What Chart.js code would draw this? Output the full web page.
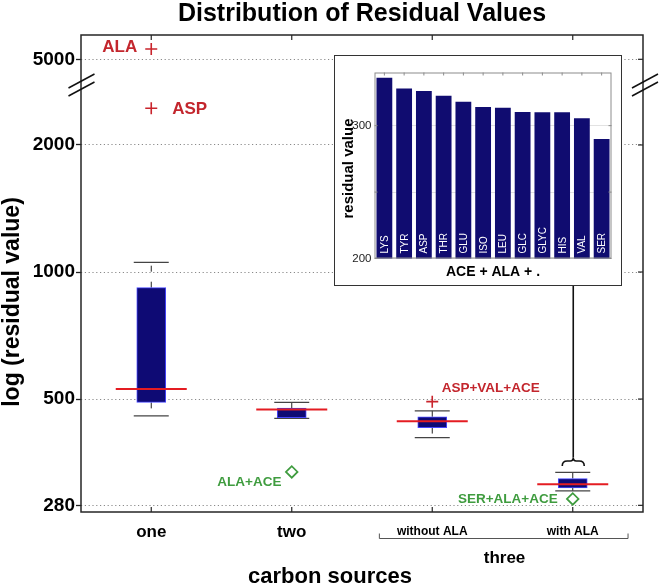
<!DOCTYPE html>
<html><head><meta charset="utf-8">
<script src="https://cdn.jsdelivr.net/npm/chart.js@4/dist/chart.umd.min.js"></script>
<style>
html,body{margin:0;padding:0;background:#fff;}
#wrap{position:relative;width:662px;height:587px;overflow:hidden;}
#main{position:absolute;left:0;top:0;}
#insetBox{position:absolute;left:334px;top:55px;width:288px;height:231px;box-sizing:border-box;border:1.5px solid #333;background:#fff;}
#inset{position:absolute;left:0;top:0;}
</style></head>
<body>
<div id="wrap">
<canvas id="main" width="662" height="587"></canvas>
<div id="insetBox"><canvas id="inset" width="285" height="228"></canvas></div>
</div>
<script>
// ---------------- data ----------------
const categories = ['one', 'two', 'without ALA', 'with ALA'];
const groupName = 'three';            // groups the last two categories
const whiskerHigh = [1054, 491, 469, 335];
const q3 = [918, 476, 454, 324];
const medians = [528, 472, 443, 314];
const q1 = [491, 452, 428, 308];
const whiskerLow = [456, 450, 405, 303];
const plusOutlierCat = [1, 1, 3];
const plusOutlierValue = [5290, 2443, 493];
const plusOutlierName = ['ALA', 'ASP', 'ASP+VAL+ACE'];
const diamondOutlierCat = [2, 4];
const diamondOutlierValue = [336, 290];
const diamondOutlierName = ['ALA+ACE', 'SER+ALA+ACE'];
const yTicksLower = [280, 500, 1000, 2000];
const yTicksUpper = [5000];
const insetCategories = ['LYS', 'TYR', 'ASP', 'THR', 'GLU', 'ISO', 'LEU', 'GLC', 'GLYC', 'HIS', 'VAL', 'SER'];
const insetValues = [336, 328, 326, 322.5, 318, 314, 313.5, 310.3, 310, 310, 305.5, 290];
const insetTicks = [200, 250, 300];
const insetTickLabels = [200, 300];

// ---------------- styles ----------------
const FF = '"Liberation Sans", Arial, Helvetica, sans-serif';
Chart.defaults.font.family = FF;
const BOX_FILL = '#0e0a74', BOX_EDGE = '#4646ff', MED_RED = '#e41c22';
const OUT_RED = '#c9242c', TXT_RED = '#c3262d', GREEN = '#3f9c3f';
const GRID_DOT = '#8a8a8a', FRAME = '#262626';
const LOWER_RANGE = [270, 2774], UPPER_RANGE = [4346, 5709];
const plusLabelStyle = [
  {dx: -14, dy: -1.5, align: 'right', size: 17},
  {dx: 21, dy: 1, align: 'left', size: 17},
  {dx: 9.4, dy: -13.7, align: 'left', size: 13.5}
];
const diamondLabelStyle = [
  {dx: -10.3, dy: 10, align: 'right', size: 13.5},
  {dx: -15, dy: 0.7, align: 'right', size: 13.5}
];

const onUpper = v => v > LOWER_RANGE[1];
const xs = categories.map((c, i) => i + 1);

const whiskerPts = [];
xs.forEach((x, i) => {
  whiskerPts.push({x, y: q3[i]}, {x, y: whiskerHigh[i]}, {x, y: null},
                  {x, y: q1[i]}, {x, y: whiskerLow[i]}, {x, y: null});
});
const capPts = [];
xs.forEach((x, i) => { capPts.push({x, y: whiskerHigh[i]}, {x, y: whiskerLow[i]}); });

const plusLower = [], plusUpper = [];
plusOutlierValue.forEach((v, i) => {
  (onUpper(v) ? plusUpper : plusLower).push({x: plusOutlierCat[i], y: v});
});

const yScaleCommon = {
  type: 'logarithmic', position: 'left', stack: 'left',
  ticks: {callback: v => String(v), font: {size: 19, weight: 'bold'}, color: '#000', padding: 1, autoSkip: false},
  grid: {color: GRID_DOT, lineWidth: 1, drawTicks: true, tickLength: 5, tickColor: '#222', tickWidth: 1.3, tickBorderDash: []},
  border: {display: false, dash: [1.2, 2.6]},
  afterFit: s => { s.width = 81; s.paddingTop = 0; s.paddingBottom = 0; }
};

const decorPlugin = {
  id: 'decor',
  afterDraw(chart) {
    const ctx = chart.ctx, ca = chart.chartArea;
    const xS = chart.scales.x, yL = chart.scales.y, yU = chart.scales.yTop;
    ctx.save();
    // frame
    ctx.strokeStyle = FRAME; ctx.lineWidth = 1.5;
    ctx.strokeRect(ca.left, ca.top, ca.right - ca.left, ca.bottom - ca.top);
    // inward ticks top/bottom
    ctx.lineWidth = 1.2;
    xS.ticks.forEach(t => {
      const px = xS.getPixelForValue(t.value);
      ctx.beginPath();
      ctx.moveTo(px, ca.top); ctx.lineTo(px, ca.top + 5);
      ctx.moveTo(px, ca.bottom); ctx.lineTo(px, ca.bottom - 5);
      ctx.stroke();
    });
    // inward ticks right
    [yL, yU].forEach(s => s.ticks.forEach(t => {
      const py = s.getPixelForValue(t.value);
      ctx.beginPath(); ctx.moveTo(ca.right, py); ctx.lineTo(ca.right - 5, py); ctx.stroke();
    }));
    // axis break marks (boundary between the two stacked y axes)
    const yb = yU.bottom;
    ctx.lineWidth = 1.5; ctx.strokeStyle = '#111';
    [ca.left + 0.5, ca.right + 2].forEach(x0 => {
      [-4, 4].forEach(off => {
        ctx.beginPath();
        ctx.moveTo(x0 - 13, yb + off + 7);
        ctx.lineTo(x0 + 13, yb + off - 7);
        ctx.stroke();
      });
    });
    // y title
    ctx.fillStyle = '#000';
    ctx.save();
    ctx.translate(19, 302); ctx.rotate(-Math.PI / 2);
    ctx.font = 'bold 23px ' + FF; ctx.textAlign = 'center'; ctx.textBaseline = 'alphabetic';
    ctx.fillText('log (residual value)', 0, 0);
    ctx.restore();
    // x title
    ctx.font = 'bold 22px ' + FF; ctx.textAlign = 'center'; ctx.textBaseline = 'alphabetic';
    ctx.fillText('carbon sources', (ca.left + ca.right) / 2 - 32, 583);
    // group bracket
    const bx1 = xS.getPixelForValue(3 - 0.38), bx2 = xS.getPixelForValue(4 + 0.39);
    ctx.strokeStyle = '#555'; ctx.lineWidth = 1;
    ctx.beginPath();
    ctx.moveTo(bx1 + 0.5, 533.5); ctx.lineTo(bx1 + 0.5, 538.5); ctx.lineTo(bx2 + 0.5, 538.5); ctx.lineTo(bx2 + 0.5, 533.5);
    ctx.stroke();
    ctx.font = 'bold 17px ' + FF;
    ctx.fillText(groupName, (xS.getPixelForValue(3) + xS.getPixelForValue(4)) / 2 + 2, 562.5);
    // outlier labels
    ctx.textBaseline = 'middle';
    plusOutlierName.forEach((nm, i) => {
      const st = plusLabelStyle[i], v = plusOutlierValue[i];
      const px = xS.getPixelForValue(plusOutlierCat[i]);
      const py = (onUpper(v) ? yU : yL).getPixelForValue(v);
      ctx.font = 'bold ' + st.size + 'px ' + FF; ctx.textAlign = st.align; ctx.fillStyle = TXT_RED;
      ctx.fillText(nm, px + st.dx, py + st.dy);
    });
    diamondOutlierName.forEach((nm, i) => {
      const st = diamondLabelStyle[i], v = diamondOutlierValue[i];
      const px = xS.getPixelForValue(diamondOutlierCat[i]);
      const py = yL.getPixelForValue(v);
      ctx.font = 'bold ' + st.size + 'px ' + FF; ctx.textAlign = st.align; ctx.fillStyle = GREEN;
      ctx.fillText(nm, px + st.dx, py + st.dy);
    });
    // connector from inset to the "with ALA" box, with a curly brace
    const cx = xS.getPixelForValue(4) + 0.5;
    const capY = yL.getPixelForValue(whiskerHigh[3]);
    const tip = capY - 15, mid = capY - 11.5, end = capY - 6.5;
    ctx.strokeStyle = '#111'; ctx.lineWidth = 1.6;
    ctx.beginPath(); ctx.moveTo(cx, 280); ctx.lineTo(cx, tip); ctx.stroke();
    ctx.beginPath();
    ctx.moveTo(cx - 11, end);
    ctx.quadraticCurveTo(cx - 11, mid, cx - 6, mid);
    ctx.lineTo(cx - 3, mid);
    ctx.quadraticCurveTo(cx, mid, cx, tip);
    ctx.quadraticCurveTo(cx, mid, cx + 3, mid);
    ctx.lineTo(cx + 6, mid);
    ctx.quadraticCurveTo(cx + 11, mid, cx + 11, end);
    ctx.stroke();
    ctx.restore();
  }
};

new Chart(document.getElementById('main'), {
  type: 'bar',
  data: {
    datasets: [
      {type: 'line', label: 'median', order: 0, data: xs.map((x, i) => ({x, y: medians[i]})), yAxisID: 'y',
       showLine: false, pointStyle: 'line', pointRadius: 35.5, borderColor: MED_RED, pointBorderColor: MED_RED, pointBorderWidth: 2},
      {type: 'line', label: 'outliers', order: 1, data: plusLower, yAxisID: 'y', showLine: false,
       pointStyle: 'cross', pointRadius: 6, borderColor: OUT_RED, pointBorderColor: OUT_RED, pointBorderWidth: 1.6},
      {type: 'line', label: 'outliers high', order: 1, data: plusUpper, yAxisID: 'yTop', showLine: false,
       pointStyle: 'cross', pointRadius: 6, borderColor: OUT_RED, pointBorderColor: OUT_RED, pointBorderWidth: 1.6},
      {type: 'line', label: 'low outliers', order: 1, data: diamondOutlierValue.map((v, i) => ({x: diamondOutlierCat[i], y: v})), yAxisID: 'y',
       showLine: false, pointStyle: 'rectRot', pointRadius: 5.8, borderColor: GREEN, pointBorderColor: GREEN,
       pointBackgroundColor: 'rgba(255,255,255,0)', pointBorderWidth: 1.7},
      {type: 'bar', label: 'IQR', order: 2, data: xs.map((x, i) => ({x, y: [q1[i], q3[i]]})), yAxisID: 'y',
       backgroundColor: BOX_FILL, borderColor: BOX_EDGE, borderWidth: 1, borderSkipped: false, barThickness: 29},
      {type: 'line', label: 'caps', order: 3, data: capPts, yAxisID: 'y', showLine: false,
       pointStyle: 'line', pointRadius: 17.5, borderColor: '#444', pointBorderColor: '#444', pointBorderWidth: 1.2},
      {type: 'line', label: 'whiskers', order: 4, data: whiskerPts, yAxisID: 'y', spanGaps: false,
       borderColor: '#222', borderWidth: 1, borderDash: [6, 10], pointRadius: 0, fill: false}
    ]
  },
  options: {
    responsive: false, animation: false, events: [],
    layout: {autoPadding: false, padding: {left: 0, right: 19, top: 0, bottom: 0}},
    plugins: {
      legend: {display: false}, tooltip: {enabled: false},
      title: {display: true, text: 'Distribution of Residual Values', fullSize: false, color: '#000',
              font: {size: 25, weight: 'bold', lineHeight: 1}, padding: {top: 2, bottom: 8}}
    },
    scales: {
      x: {
        type: 'linear', min: 0.5, max: 4.5, offset: false,
        afterBuildTicks: s => { s.ticks = xs.map(v => ({value: v})); },
        ticks: {
          autoSkip: false, maxRotation: 0, color: '#000', padding: 1.8,
          callback: (v, i) => categories[i],
          font: c => (c.index < 2 ? {size: 17, weight: 'bold', lineHeight: 1.2} : {size: 12, weight: 'bold', lineHeight: 1.7})
        },
        grid: {display: false},
        border: {display: false},
        afterFit: s => { s.height = 75; s.paddingLeft = 0; s.paddingRight = 0; }
      },
      y: Object.assign({}, yScaleCommon, {
        min: LOWER_RANGE[0], max: LOWER_RANGE[1], stackWeight: 427,
        afterBuildTicks: s => { s.ticks = yTicksLower.map(v => ({value: v})); }
      }),
      yTop: Object.assign({}, yScaleCommon, {
        min: UPPER_RANGE[0], max: UPPER_RANGE[1], stackWeight: 50,
        afterBuildTicks: s => { s.ticks = yTicksUpper.map(v => ({value: v})); }
      })
    }
  },
  plugins: [decorPlugin]
});

// ---------------- inset ----------------
const insetDecor = {
  id: 'insetDecor',
  beforeDraw(chart) {
    const ctx = chart.ctx, ca = chart.chartArea;
    ctx.save();
    ctx.fillStyle = '#000';
    ctx.translate(17.5, (ca.top + ca.bottom) / 2 + 3);
    ctx.rotate(-Math.PI / 2);
    ctx.font = 'bold 15px ' + FF; ctx.textAlign = 'center'; ctx.textBaseline = 'alphabetic';
    ctx.fillText('residual value', 0, 0);
    ctx.restore();
  },
  afterDatasetsDraw(chart) {
    const ctx = chart.ctx, ca = chart.chartArea;
    const meta = chart.getDatasetMeta(0);
    ctx.save();
    ctx.fillStyle = '#fff'; ctx.font = '10px ' + FF; ctx.textAlign = 'left'; ctx.textBaseline = 'alphabetic';
    meta.data.forEach((bar, i) => {
      ctx.save();
      ctx.translate(bar.x + 3.6, ca.bottom - 5);
      ctx.rotate(-Math.PI / 2);
      ctx.fillText(insetCategories[i], 0, 0);
      ctx.restore();
    });
    ctx.restore();
  },
  afterDraw(chart) {
    const ctx = chart.ctx, ca = chart.chartArea, yS = chart.scales.y;
    const meta = chart.getDatasetMeta(0);
    ctx.save();
    ctx.strokeStyle = '#8c8c8c'; ctx.lineWidth = 1;
    ctx.strokeRect(ca.left + 0.5, ca.top + 0.5, ca.right - ca.left - 1, ca.bottom - ca.top - 1);
    meta.data.forEach(bar => {
      ctx.beginPath(); ctx.moveTo(bar.x, ca.top); ctx.lineTo(bar.x, ca.top + 3); ctx.stroke();
    });
    yS.ticks.forEach(t => {
      const py = yS.getPixelForValue(t.value);
      ctx.beginPath();
      ctx.moveTo(ca.right, py); ctx.lineTo(ca.right - 3, py);
      ctx.moveTo(ca.left, py); ctx.lineTo(ca.left + 3, py);
      ctx.stroke();
    });
    ctx.restore();
  }
};

new Chart(document.getElementById('inset'), {
  type: 'bar',
  data: {
    labels: insetCategories,
    datasets: [{label: 'ACE + ALA + .', data: insetValues, backgroundColor: '#100c70',
                barPercentage: 0.8, categoryPercentage: 1.0, borderWidth: 0}]
  },
  options: {
    responsive: false, animation: false, events: [],
    layout: {autoPadding: false, padding: {left: 0, right: 8.5, top: 16.5, bottom: 0}},
    plugins: {legend: {display: false}, tooltip: {enabled: false}},
    scales: {
      x: {
        grid: {display: false}, border: {display: false}, ticks: {display: false},
        title: {display: true, text: 'ACE + ALA + .', color: '#000', font: {size: 14, weight: 'bold'}, padding: {top: 0, bottom: 3}},
        afterFit: s => { s.height = 25.5; s.paddingLeft = 0; s.paddingRight = 0; }
      },
      y: {
        min: 200, max: 340,
        afterBuildTicks: s => { s.ticks = insetTicks.map(v => ({value: v})); },
        ticks: {callback: v => (insetTickLabels.includes(v) ? String(v) : ''), font: {size: 11.5}, color: '#222', padding: 3, autoSkip: false},
        grid: {color: '#e2e2e2', drawTicks: false},
        border: {display: false},
        afterFit: s => { s.width = 39.5; s.paddingTop = 0; s.paddingBottom = 0; }
      }
    }
  },
  plugins: [insetDecor]
});
</script>
</body></html>
